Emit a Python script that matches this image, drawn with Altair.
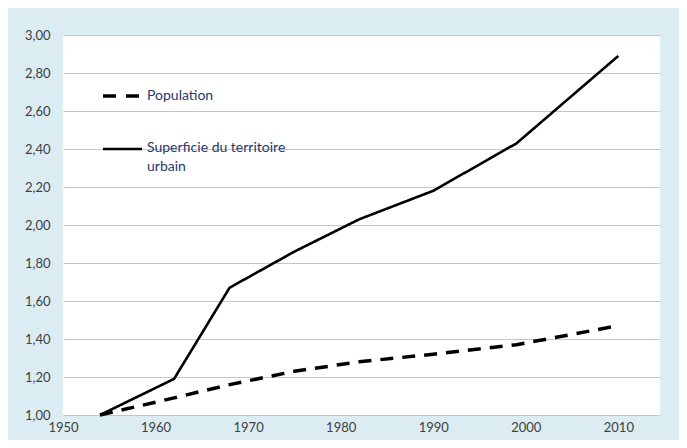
import altair as alt
import pandas as pd

# ---- data ----
years = [1954, 1962, 1968, 1975, 1982, 1990, 1999, 2010]
population = [1.00, 1.09, 1.16, 1.23, 1.28, 1.32, 1.37, 1.47]
superficie = [1.00, 1.19, 1.67, 1.86, 2.03, 2.18, 2.43, 2.89]
series_names = ["Population", "Superficie du territoire urbain"]
x_ticks = [1950, 1960, 1970, 1980, 1990, 2000, 2010]
y_ticks = [1.0, 1.2, 1.4, 1.6, 1.8, 2.0, 2.2, 2.4, 2.6, 2.8, 3.0]
legend_lines_pop = ["Population"]
legend_lines_sup = ["Superficie du territoire", "urbain"]

rows = []
for y, p, s in zip(years, population, superficie):
    rows.append({"annee": y, "valeur": p, "serie": series_names[0]})
    rows.append({"annee": y, "valeur": s, "serie": series_names[1]})
df = pd.DataFrame(rows)

FONT = "Lato"
LEG_COLOR = "#26386e"

lines = alt.Chart(df).mark_line(color="black", strokeCap="butt", strokeJoin="round").encode(
    x=alt.X("annee:Q",
            scale=alt.Scale(domain=[1950, 2014.5], nice=False, zero=False),
            axis=alt.Axis(values=x_ticks, format="d", title=None, grid=False,
                          ticks=False, domain=False, labelPadding=6, labelFlush=False,
                          labelFont=FONT, labelFontSize=13, labelColor="#404040")),
    y=alt.Y("valeur:Q",
            scale=alt.Scale(domain=[1.0, 3.0], nice=False, zero=False),
            axis=alt.Axis(values=y_ticks, title=None, grid=True, gridColor="#c6c6c6",
                          gridWidth=1.2, ticks=False, domain=False, labelPadding=13,
                          labelFlush=False,
                          labelExpr="replace(format(datum.value, '.2f'), '.', ',')",
                          labelFont=FONT, labelFontSize=13, labelColor="#404040")),
    strokeDash=alt.StrokeDash("serie:N",
                              scale=alt.Scale(domain=series_names, range=[[13, 9], [1, 0]]),
                              legend=None),
    strokeWidth=alt.StrokeWidth("serie:N",
                                scale=alt.Scale(domain=series_names, range=[3.5, 2.6]),
                                legend=None),
    detail="serie:N",
)

# ---- hand-drawn legend inside the plot (as in the reference) ----
leg_pop_rule = alt.Chart(pd.DataFrame({"serie": [series_names[0]]})).mark_rule(
    color="black", strokeWidth=3.5, strokeDash=[13, 10], strokeCap="butt"
).encode(x=alt.value(40), x2=alt.value(79), y=alt.value(61))

leg_sup_rule = alt.Chart(pd.DataFrame({"serie": [series_names[1]]})).mark_rule(
    color="black", strokeWidth=2.6, strokeCap="butt"
).encode(x=alt.value(40), x2=alt.value(79), y=alt.value(114))

leg_pop_text = alt.Chart(pd.DataFrame({"t": legend_lines_pop})).mark_text(
    align="left", baseline="middle", font=FONT, fontSize=14, color=LEG_COLOR
).encode(x=alt.value(84), y=alt.value(61), text="t:N")

leg_sup_text1 = alt.Chart(pd.DataFrame({"t": [legend_lines_sup[0]]})).mark_text(
    align="left", baseline="middle", font=FONT, fontSize=14, color=LEG_COLOR
).encode(x=alt.value(84), y=alt.value(113), text="t:N")

leg_sup_text2 = alt.Chart(pd.DataFrame({"t": [legend_lines_sup[1]]})).mark_text(
    align="left", baseline="middle", font=FONT, fontSize=14, color=LEG_COLOR
).encode(x=alt.value(84), y=alt.value(132), text="t:N")

chart = alt.layer(
    lines, leg_pop_rule, leg_sup_rule, leg_pop_text, leg_sup_text1, leg_sup_text2
).properties(
    width=597,
    height=380,
    autosize=alt.AutoSizeParams(type="none"),
    padding={"left": 55, "top": 27, "right": 19, "bottom": 25},
    background="#dbecf3",
).configure_view(fill="white", strokeWidth=0)

chart.save("out.html", embed_options={"renderer": "svg", "actions": False})
